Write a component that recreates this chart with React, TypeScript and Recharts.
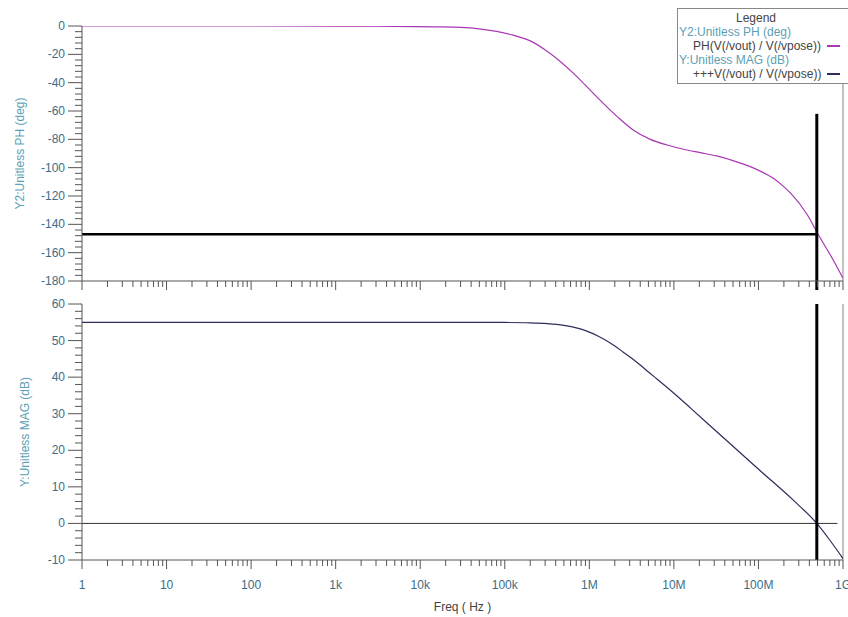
import { LineChart, Line, XAxis, YAxis, ReferenceLine } from "recharts";

// phase response
const phaseFreq = [1, 10, 100, 1e3, 5e3, 1.5e4, 3e4, 5e4, 8e4, 1.25e5, 2e5, 3.2e5, 6.5e5, 1.2e6, 2.14e6, 3.3e6, 5.25e6, 8.3e6, 1.3e7, 2.05e7, 3.2e7, 5e7, 8e7, 1.2e8, 1.5e8, 1.9e8, 2.4e8, 3.8e8, 5e8, 7.8e8, 1e9];
const phaseDeg = [0, 0, 0, -0.05, -0.2, -0.6, -1.0, -2.0, -3.8, -6.4, -10.5, -18, -33.4, -49.5, -64, -73.4, -80, -84, -87, -89.4, -91.7, -95, -99.3, -104.2, -107.5, -112.3, -118, -133.4, -146.3, -166, -178];

// magnitude response
const magFreq = [1, 10, 100, 1e3, 1e4, 1e5, 2e5, 3.2e5, 5e5, 6.3e5, 8e5, 1e6, 1.26e6, 1.6e6, 2e6, 2.5e6, 3.2e6, 4e6, 5e6, 6.3e6, 8e6, 1e7, 1.6e7, 3.5e7, 1.05e8, 2.6e8, 4.9e8, 7e8, 1e9];
const magDb = [55, 55, 55, 55, 55, 54.95, 54.86, 54.65, 54.17, 53.74, 53.13, 52.3, 51.25, 49.95, 48.5, 46.9, 45.1, 43.3, 41.4, 39.5, 37.5, 35.6, 31.4, 24.3, 14.4, 6.3, 0, -4.6, -9.6];

const decades = [1, 10, 100, 1e3, 1e4, 1e5, 1e6, 1e7, 1e8, 1e9];
const decadeLabels = ["1", "10", "100", "1k", "10k", "100k", "1M", "10M", "100M", "1G"];
const freqTicks = decades.flatMap((d, i) =>
  i === decades.length - 1 ? [d] : [1, 2, 3, 4, 5, 6, 7, 8, 9].map((k) => k * d)
);

const phaseMajor = [0, -20, -40, -60, -80, -100, -120, -140, -160, -180];
const phaseTicks = Array.from({ length: 46 }, (_, i) => -i * 4);
const magMajor = [60, 50, 40, 30, 20, 10, 0, -10];
const magTicks = Array.from({ length: 36 }, (_, i) => 60 - i * 2);

// marker: unity-gain crossing and phase there
const crossFreq = 4.9e8;
const crossPhase = -147;

const phaseData = phaseFreq.map((f, i) => ({ f, ph: phaseDeg[i] }));
const magData = magFreq.map((f, i) => ({ f, mag: magDb[i] }));

const tickColor = "#3d6d86";
const titleColor = "#5c9fb6";
const axisColor = "#555";
const phaseColor = "#a838b4";
const magColor = "#2c2e5e";

const FreqTick = ({ x, y, payload, showLabel }: any) => {
  const idx = decades.indexOf(payload.value);
  const major = idx >= 0;
  return (
    <g>
      <line x1={x} x2={x} y1={y} y2={y + (major ? 9 : 6)} stroke={axisColor} />
      {showLabel && major && (
        <text x={x} y={y + 29} textAnchor="middle" fontSize={12} fill={tickColor}>
          {decadeLabels[idx]}
        </text>
      )}
    </g>
  );
};

const ValueTick = ({ x, y, payload, majors }: any) => {
  const major = majors.includes(payload.value);
  return (
    <g>
      <line x1={x} x2={x - (major ? 14 : 7)} y1={y} y2={y} stroke={axisColor} />
      {major && (
        <text x={x - 17} y={y} dy={4} textAnchor="end" fontSize={12} fill={tickColor}>
          {payload.value}
        </text>
      )}
    </g>
  );
};

const legendRow = { height: 14, lineHeight: "14px", whiteSpace: "nowrap" as const };

const App = () => {
  return (
    <div
      style={{
        position: "absolute",
        left: 0,
        top: 0,
        width: 848,
        height: 617,
        overflow: "hidden",
        background: "#fff",
        fontFamily: "'Liberation Sans', Arial, sans-serif",
      }}
    >
      <div style={{ position: "absolute", left: 0, top: 0 }}>
        <LineChart width={848} height={290} data={phaseData} margin={{ top: 26, right: 5, left: 0, bottom: 0 }}>
          <XAxis
            dataKey="f"
            type="number"
            scale="log"
            domain={[1, 1e9]}
            allowDataOverflow
            ticks={freqTicks}
            interval={0}
            height={9}
            tickSize={0}
            tickMargin={0}
            tickLine={false}
            axisLine={{ stroke: axisColor }}
            tick={(p: any) => <FreqTick {...p} showLabel={false} />}
          />
          <YAxis
            type="number"
            domain={[-180, 0]}
            allowDataOverflow
            ticks={phaseTicks}
            interval={0}
            width={82}
            tickSize={0}
            tickMargin={0}
            tickLine={false}
            axisLine={{ stroke: axisColor }}
            tick={(p: any) => <ValueTick {...p} majors={phaseMajor} />}
            label={{
              value: "Y2:Unitless PH (deg)",
              angle: -90,
              position: "insideLeft",
              offset: 20,
              fill: titleColor,
              fontSize: 12,
              style: { textAnchor: "middle" },
            }}
          />
          <ReferenceLine x={1e9} stroke="#888" />
          <Line
            dataKey="ph"
            type="monotone"
            stroke={phaseColor}
            strokeWidth={1.2}
            dot={false}
            isAnimationActive={false}
          />
          <ReferenceLine
            segment={[{ x: 1, y: crossPhase }, { x: crossFreq, y: crossPhase }]}
            stroke="#000"
            strokeWidth={2.5}
          />
          <ReferenceLine
            segment={[{ x: crossFreq, y: -62 }, { x: crossFreq, y: -196 }]}
            stroke="#000"
            strokeWidth={3}
            ifOverflow="visible"
          />
        </LineChart>
      </div>

      <div style={{ position: "absolute", left: 0, top: 290 }}>
        <LineChart width={848} height={327} data={magData} margin={{ top: 14, right: 5, left: 0, bottom: 0 }}>
          <XAxis
            dataKey="f"
            type="number"
            scale="log"
            domain={[1, 1e9]}
            allowDataOverflow
            ticks={freqTicks}
            interval={0}
            height={57}
            tickSize={0}
            tickMargin={0}
            tickLine={false}
            axisLine={{ stroke: axisColor }}
            tick={(p: any) => <FreqTick {...p} showLabel />}
            label={{ value: "Freq ( Hz )", position: "insideBottom", offset: 6, fill: "#444", fontSize: 12 }}
          />
          <YAxis
            type="number"
            domain={[-10, 60]}
            allowDataOverflow
            ticks={magTicks}
            interval={0}
            width={82}
            tickSize={0}
            tickMargin={0}
            tickLine={false}
            axisLine={{ stroke: axisColor }}
            tick={(p: any) => <ValueTick {...p} majors={magMajor} />}
            label={{
              value: "Y:Unitless MAG (dB)",
              angle: -90,
              position: "insideLeft",
              offset: 25,
              fill: titleColor,
              fontSize: 12,
              style: { textAnchor: "middle" },
            }}
          />
          <ReferenceLine x={1e9} stroke="#888" />
          <ReferenceLine segment={[{ x: 1, y: 0 }, { x: 8.6e8, y: 0 }]} stroke="#333" strokeWidth={1} />
          <Line
            dataKey="mag"
            type="monotone"
            stroke={magColor}
            strokeWidth={1.2}
            dot={false}
            isAnimationActive={false}
          />
          <ReferenceLine x={crossFreq} stroke="#000" strokeWidth={3} />
        </LineChart>
      </div>

      <div
        style={{
          position: "absolute",
          left: 677,
          top: 8,
          width: 180,
          height: 76,
          boxSizing: "border-box",
          border: "1px solid #888",
          background: "#fff",
          fontSize: 12,
          color: "#444",
          paddingTop: 2,
        }}
      >
        <div style={{ ...legendRow, width: 178, textAlign: "center", marginLeft: -11 }}>Legend</div>
        <div style={{ ...legendRow, color: titleColor, paddingLeft: 1 }}>Y2:Unitless PH (deg)</div>
        <div style={{ ...legendRow, paddingLeft: 15, display: "flex", alignItems: "center" }}>
          <span>PH(V(/vout) / V(/vpose))</span>
          <span style={{ display: "inline-block", width: 13, height: 1.3, background: phaseColor, marginLeft: 6 }} />
        </div>
        <div style={{ ...legendRow, color: titleColor, paddingLeft: 1 }}>Y:Unitless MAG (dB)</div>
        <div style={{ ...legendRow, paddingLeft: 15, display: "flex", alignItems: "center" }}>
          <span>+++V(/vout) / V(/vpose))</span>
          <span style={{ display: "inline-block", width: 13, height: 1.3, background: magColor, marginLeft: 6 }} />
        </div>
      </div>
    </div>
  );
};

export default App;
